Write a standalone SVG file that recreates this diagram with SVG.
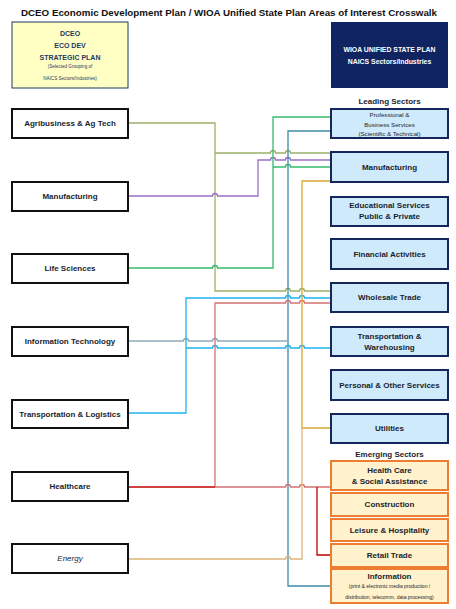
<svg xmlns="http://www.w3.org/2000/svg" width="456" height="609" viewBox="0 0 456 609">
<style>
text{font-family:"Liberation Sans",Arial,sans-serif;fill:#1b1e2e;text-anchor:middle;dominant-baseline:central}
.t{font-weight:bold;font-size:9.6px;fill:#111}
.l rect{fill:#fff;stroke:#111;stroke-width:2}
.l text{font-size:8px;font-weight:bold}
.r rect{fill:#cfeafb;stroke:#14265c;stroke-width:2}
.e rect{fill:#fff2cc;stroke:#ed7d31;stroke-width:2}
.r text,.e text{font-size:8px;font-weight:bold}
.s{font-size:5.6px!important;font-weight:normal!important}
.h{font-size:8px;font-weight:bold}
.c path{fill:none;stroke-width:1.3}
</style>
<rect width="456" height="609" fill="#fff"/>
<text class="t" x="229" y="12" textLength="416" lengthAdjust="spacingAndGlyphs">DCEO Economic Development Plan / WIOA Unified State Plan Areas of Interest Crosswalk</text>

<g id="dceo-header">
<rect x="12" y="22" width="116" height="66" fill="#ffffc4" stroke="#1f3864" stroke-width="1"/>
<text x="70" y="33" style="font-size:7px;font-weight:bold;fill:#1f3864">DCEO</text>
<text x="70" y="45" style="font-size:7px;font-weight:bold;fill:#1f3864">ECO DEV</text>
<text x="70" y="57" style="font-size:7px;font-weight:bold;fill:#1f3864">STRATEGIC PLAN</text>
<text x="70" y="66" style="font-size:4.6px;fill:#1f3864">(Selected Grouping of</text>
<text x="70" y="78" style="font-size:4.6px;fill:#1f3864">NAICS Sectors/Industries)</text>
</g>
<g id="wioa-header">
<rect x="331" y="22" width="117" height="66" fill="#0f2461"/>
<text x="389.5" y="49" style="font-size:6.9px;font-weight:bold;fill:#fff">WIOA UNIFIED STATE PLAN</text>
<text x="389.5" y="61" style="font-size:6.9px;font-weight:bold;fill:#fff">NAICS Sectors/Industries</text>
</g>
<text class="h" x="389.5" y="101">Leading Sectors</text>
<text class="h" x="389.5" y="454">Emerging Sectors</text>

<g class="c" id="connectors">
<path stroke="#9bb06b" d="M128,123H215V291H285.5A2.5,2.5 0 0 1 290.5,291H299.5A2.5,2.5 0 0 1 304.5,291H331"/>
<path stroke="#9bb06b" d="M215,153H270.5A2.5,2.5 0 0 1 275.5,153H285.5A2.5,2.5 0 0 1 290.5,153H331"/>
<path stroke="#9a6fc8" d="M128,196H212.5A2.5,2.5 0 0 1 217.5,196H258V160H270.5A2.5,2.5 0 0 1 275.5,160H285.5A2.5,2.5 0 0 1 290.5,160H331"/>
<path stroke="#36b96b" d="M128,268H212.5A2.5,2.5 0 0 1 217.5,268H273V117H331"/>
<path stroke="#36b96b" d="M273,167H285.5A2.5,2.5 0 0 1 290.5,167H331"/>
<path stroke="#3d8ba6" d="M331,131H288V586H331"/>
<path stroke="#8eaab6" d="M128,341H183.5A2.5,2.5 0 0 1 188.5,341H212.5A2.5,2.5 0 0 1 217.5,341H288"/>
<path stroke="#1fb2ee" d="M128,413H186V298H285.5A2.5,2.5 0 0 1 290.5,298H299.5A2.5,2.5 0 0 1 304.5,298H331"/>
<path stroke="#1fb2ee" d="M186,348H212.5A2.5,2.5 0 0 1 217.5,348H285.5A2.5,2.5 0 0 1 290.5,348H299.5A2.5,2.5 0 0 1 304.5,348H331"/>
<path stroke="#d57274" d="M215,487V303H285.5A2.5,2.5 0 0 1 290.5,303H299.5A2.5,2.5 0 0 1 304.5,303H331"/>
<path stroke="#d57274" d="M215,487H285.5A2.5,2.5 0 0 1 290.5,487H299.5A2.5,2.5 0 0 1 304.5,487H331"/>
<path stroke="#c00000" d="M128,487H215"/>
<path stroke="#c00000" d="M317,487V555H331"/>
<path stroke="#d8a834" d="M331,181H302V428H331"/>
<path stroke="#ddb57a" d="M128,559H285.5A2.5,2.5 0 0 1 290.5,559H302V428"/>
</g>

<g id="l-agri" class="l"><rect x="12" y="109" width="116" height="29"/><text x="70" y="123.5">Agribusiness &amp; Ag Tech</text></g>
<g id="l-manu" class="l"><rect x="12" y="182" width="116" height="29"/><text x="70" y="196.5">Manufacturing</text></g>
<g id="l-life" class="l"><rect x="12" y="254" width="116" height="29"/><text x="70" y="268.5">Life Sciences</text></g>
<g id="l-it" class="l"><rect x="12" y="327" width="116" height="29"/><text x="70" y="341.5">Information Technology</text></g>
<g id="l-trans" class="l"><rect x="12" y="400" width="116" height="28"/><text x="70" y="414">Transportation &amp; Logistics</text></g>
<g id="l-health" class="l"><rect x="12" y="472" width="116" height="29"/><text x="70" y="486.5">Healthcare</text></g>
<g id="l-energy" class="l"><rect x="12" y="544" width="116" height="29"/><text x="70" y="558.5" font-style="italic" style="font-weight:normal">Energy</text></g>

<g id="r-prof" class="r"><rect x="331" y="109" width="117" height="29"/><text class="s" x="389.5" y="114" style="font-size:6.2px!important">Professional &amp;</text><text class="s" x="389.5" y="124" style="font-size:6.2px!important">Business Services</text><text class="s" x="389.5" y="133" style="font-size:6.2px!important">(Scientific &amp; Technical)</text></g>
<g id="r-manu" class="r"><rect x="331" y="152" width="117" height="30"/><text x="389.5" y="167">Manufacturing</text></g>
<g id="r-edu" class="r"><rect x="331" y="197" width="117" height="29"/><text x="389.5" y="205">Educational Services</text><text x="389.5" y="216">Public &amp; Private</text></g>
<g id="r-fin" class="r"><rect x="331" y="239" width="117" height="30"/><text x="389.5" y="254">Financial Activities</text></g>
<g id="r-whole" class="r"><rect x="331" y="283" width="117" height="29"/><text x="389.5" y="297.5">Wholesale Trade</text></g>
<g id="r-tw" class="r"><rect x="331" y="327" width="117" height="29"/><text x="389.5" y="336">Transportation &amp;</text><text x="389.5" y="347">Warehousing</text></g>
<g id="r-pers" class="r"><rect x="331" y="370" width="117" height="30"/><text x="389.5" y="385">Personal &amp; Other Services</text></g>
<g id="r-util" class="r"><rect x="331" y="414" width="117" height="29"/><text x="389.5" y="428.5">Utilities</text></g>

<g id="e-health" class="e"><rect x="331" y="461" width="117" height="29"/><text x="389.5" y="470">Health Care</text><text x="389.5" y="481">&amp; Social Assistance</text></g>
<g id="e-const" class="e"><rect x="331" y="493" width="117" height="23"/><text x="389.5" y="504.5">Construction</text></g>
<g id="e-leis" class="e"><rect x="331" y="519" width="117" height="22"/><text x="389.5" y="530">Leisure &amp; Hospitality</text></g>
<g id="e-retail" class="e"><rect x="331" y="544" width="117" height="23"/><text x="389.5" y="555.5">Retail Trade</text></g>
<g id="e-info" class="e"><rect x="331" y="569" width="117" height="34"/><text x="389.5" y="576">Information</text><text class="s" x="389.5" y="586" style="font-size:5px!important">(print &amp; electronic media production /</text><text class="s" x="389.5" y="597" style="font-size:5px!important">distribution, telecomm, data processing)</text></g>
</svg>
